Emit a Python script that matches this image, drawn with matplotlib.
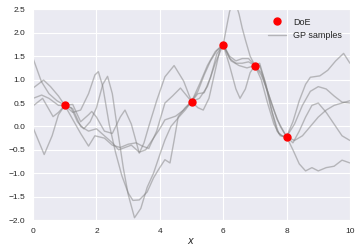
import matplotlib
matplotlib.use("Agg")
import matplotlib.pyplot as plt
import seaborn as sns

# design of experiments (observed points)
doe_x = [1, 5, 6, 7, 8]
doe_y = [0.45, 0.53, 1.75, 1.30, -0.22]

# five GP sample paths
gp1_x = [0, 0.26, 0.5, 0.75, 1.0, 1.25, 1.5, 1.75, 1.95, 2.06, 2.2, 2.4, 2.6, 2.8, 3.0, 3.15, 3.35,
         3.6, 3.8, 3.95, 4.16, 4.32, 4.45, 4.58, 4.8, 5.0, 5.2, 5.4, 5.6, 5.8, 6.0, 6.1, 6.2, 6.3,
         6.4, 6.5, 6.6, 6.7, 6.85, 7.0, 7.2, 7.4, 7.6, 7.8, 8.0, 8.2, 8.4, 8.6, 8.75, 9.05, 9.3,
         9.55, 9.8, 10.0]
gp1_y = [1.45, 0.96, 0.70, 0.55, 0.45, 0.30, 0.35, 0.70, 1.10, 1.17, 0.85, 0.05, -0.55, -1.05, -1.42,
         -1.58, -1.57, -1.40, -1.10, -0.93, -0.71, -0.78, -0.30, 0.21, 0.40, 0.53, 0.75, 1.10, 1.40,
         1.62, 1.75, 2.10, 2.45, 2.65, 2.62, 2.40, 2.10, 1.85, 1.50, 1.30, 1.00, 0.50, 0.05, -0.20,
         -0.22, 0.10, 0.55, 0.90, 1.05, 1.08, 1.20, 1.40, 1.56, 1.35]

gp2_x = [0, 0.33, 0.55, 0.8, 1.0, 1.2, 1.4, 1.6, 1.8, 2.0, 2.2, 2.35, 2.5, 2.65, 2.85, 3.0, 3.2,
         3.4, 3.6, 3.8, 4.0, 4.16, 4.35, 4.6, 4.8, 5.0, 5.2, 5.4, 5.6, 5.8, 6.0, 6.2, 6.4, 6.53,
         6.7, 6.85, 7.0, 7.15, 7.3, 7.5, 7.7, 7.85, 8.0, 8.25, 8.5, 8.75, 9.0, 9.25, 9.5, 9.75, 10.0]
gp2_y = [0.82, 0.99, 0.85, 0.65, 0.45, 0.40, 0.10, -0.05, 0.10, 0.40, 0.90, 1.07, 0.70, 0.00, -0.90,
         -1.45, -1.95, -1.75, -1.30, -1.00, -0.60, -0.29, 0.00, 0.20, 0.35, 0.53, 0.70, 0.72, 1.05,
         1.55, 1.75, 1.30, 0.80, 0.60, 0.80, 1.15, 1.30, 1.35, 1.00, 0.40, -0.10, -0.20, -0.22, 0.05,
         0.45, 0.75, 0.85, 0.80, 0.65, 0.52, 0.50]

gp3_x = [0, 0.27, 0.5, 0.8, 1.0, 1.25, 1.5, 1.75, 1.85, 2.0, 2.25, 2.5, 2.75, 2.9, 3.1, 3.35, 3.5,
         3.65, 3.9, 4.16, 4.45, 4.75, 5.0, 5.2, 5.37, 5.55, 5.75, 5.9, 6.0, 6.2, 6.4, 6.6, 6.8, 7.0,
         7.2, 7.4, 7.6, 7.8, 8.0, 8.25, 8.5, 8.75, 9.0, 9.25, 9.5, 9.75, 10.0]
gp3_y = [0.60, 0.67, 0.60, 0.45, 0.45, 0.47, 0.10, 0.25, 0.32, 0.20, -0.10, -0.15, 0.20, 0.35, 0.05,
         -0.57, -0.35, 0.00, 0.55, 1.06, 1.30, 0.97, 0.53, 0.40, 0.35, 0.60, 1.20, 1.65, 1.75, 1.50,
         1.40, 1.45, 1.45, 1.30, 1.10, 0.75, 0.35, 0.00, -0.22, -0.30, -0.20, 0.00, 0.20, 0.35, 0.45,
         0.50, 0.55]

gp4_x = [0, 0.3, 0.63, 0.8, 1.0, 1.25, 1.5, 1.75, 2.0, 2.25, 2.5, 2.7, 2.9, 3.1, 3.35, 3.55, 3.75,
         4.0, 4.16, 4.5, 4.75, 5.0, 5.25, 5.5, 5.75, 6.0, 6.2, 6.4, 6.6, 6.8, 7.0, 7.15, 7.35, 7.55,
         7.75, 7.9, 8.0, 8.2, 8.4, 8.6, 8.8, 9.0, 9.25, 9.5, 9.75, 10.0]
gp4_y = [0.44, 0.60, 0.21, 0.30, 0.45, 0.38, 0.00, -0.10, -0.05, -0.20, -0.35, -0.50, -0.45, -0.40,
         -0.55, -0.50, -0.30, -0.05, 0.14, 0.22, 0.35, 0.53, 0.90, 1.30, 1.60, 1.75, 1.45, 1.35, 1.35,
         1.38, 1.30, 1.30, 0.90, 0.30, -0.15, -0.22, -0.22, -0.35, -0.10, 0.20, 0.45, 0.50, 0.30,
         0.05, -0.20, -0.30]

gp5_x = [0, 0.35, 0.6, 0.8, 1.0, 1.25, 1.5, 1.75, 1.95, 2.25, 2.5, 2.75, 3.0, 3.25, 3.45, 3.65, 3.9,
         4.16, 4.4, 4.65, 5.0, 5.25, 5.5, 5.75, 6.0, 6.25, 6.5, 6.75, 7.0, 7.2, 7.45, 7.7, 7.9, 8.0,
         8.2, 8.4, 8.6, 8.8, 9.0, 9.25, 9.5, 9.75, 10.0]
gp5_y = [-0.03, -0.60, -0.20, 0.25, 0.45, 0.15, -0.15, -0.42, -0.20, -0.25, -0.40, -0.45, -0.38,
         -0.35, -0.42, -0.47, -0.10, 0.50, 0.65, 0.82, 0.53, 0.60, 0.85, 1.35, 1.75, 1.40, 1.30, 1.25,
         1.30, 1.15, 0.65, 0.15, -0.10, -0.22, -0.50, -0.80, -0.95, -0.88, -0.95, -0.88, -0.85, -0.72,
         -0.78]

samples = [(gp1_x, gp1_y), (gp2_x, gp2_y), (gp3_x, gp3_y), (gp4_x, gp4_y), (gp5_x, gp5_y)]

sns.set_style("darkgrid")
plt.rcParams["font.family"] = ["Liberation Sans", "DejaVu Sans"]

fig = plt.figure(figsize=(3.56, 2.47), dpi=100)
ax = fig.add_axes([0.093, 0.109, 0.890, 0.853])

ax.plot(doe_x, doe_y, "o", color="red", markersize=5, label="DoE", zorder=5)
for i, (xs, ys) in enumerate(samples):
    ax.plot(xs, ys, "-", color="gray", alpha=0.5, lw=1.0,
            label="GP samples" if i == 0 else None)

ax.set_xlim(0, 10)
ax.set_ylim(-2, 2.5)
ax.set_yticks([-2.0, -1.5, -1.0, -0.5, 0.0, 0.5, 1.0, 1.5, 2.0, 2.5])
ax.tick_params(labelsize=6, pad=2)
ax.set_xlabel("$x$", fontsize=7, labelpad=1)
ax.legend(loc="upper right", fontsize=6.5, numpoints=1, frameon=False)

fig.savefig("out.png", dpi=100)
